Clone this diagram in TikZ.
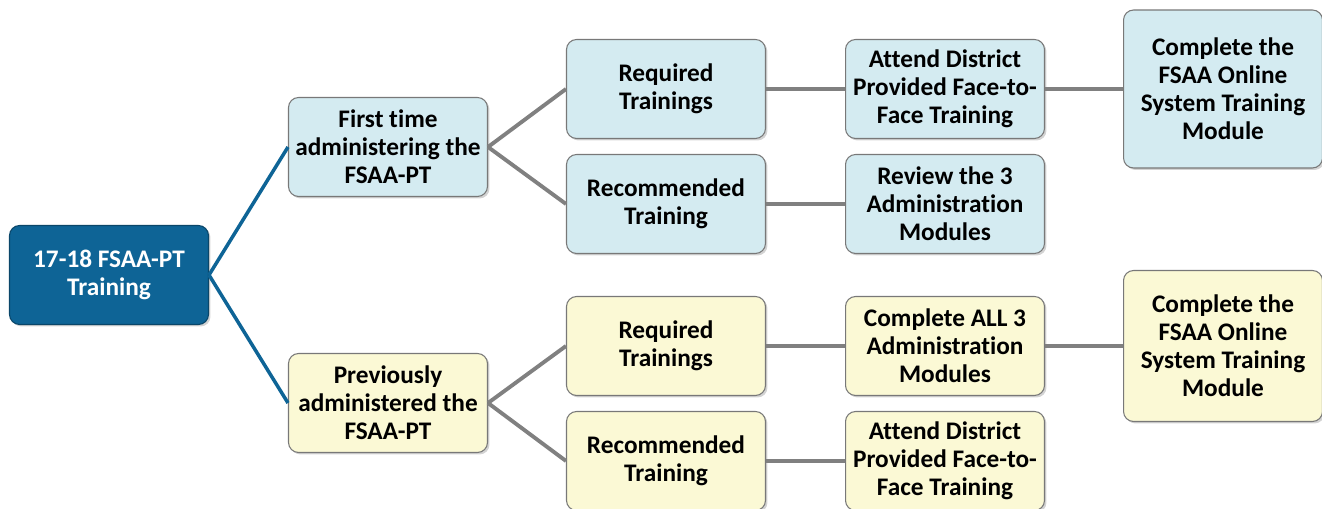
\documentclass[tikz,border=0pt]{standalone}
\usepackage{fontspec}
\setmainfont{Carlito}[Ligatures={NoCommon}]
\usetikzlibrary{shadows}
\definecolor{rootblue}{RGB}{14,100,150}
\definecolor{paleblue}{RGB}{212,235,241}
\definecolor{paleyellow}{RGB}{251,249,213}
\definecolor{boxline}{RGB}{120,120,120}
\definecolor{linkgray}{RGB}{128,128,128}
\tikzset{
  box/.style={rectangle,rounded corners=.2cm,draw=boxline,line width=.6pt,
    minimum width=3.98cm,minimum height=1.98cm,align=center,inner sep=1pt,
    font=\fontsize{14.4}{15.9}\selectfont\bfseries,
    drop shadow={shadow xshift=.04cm,shadow yshift=-.04cm,opacity=.35}},
  bluebox/.style={box,fill=paleblue},
  yellowbox/.style={box,fill=paleyellow},
  rootlink/.style={draw=rootblue,line width=2pt},
  link/.style={draw=linkgray,line width=2.2pt}
}
\begin{document}
\begin{tikzpicture}[x=.02cm,y=-.02cm]
\useasboundingbox(0,0)rectangle(1322,509);
\clip(0,0)rectangle(1322,509);
%root
\node[box,fill=rootblue,draw=rootblue!70!black,text=white](root)at(109,275){17-18 FSAA-PT\\Training};
%first time branch
\node[bluebox](first)at(388,147){First time\\administering the\\FSAA-PT};
\node[bluebox](reqa)at(666,89){Required\\Trainings};
\node[bluebox](reca)at(666,204){Recommended\\Training};
\node[bluebox](attenda)at(945,89){Attend District\\Provided Face-to-\\Face Training};
\node[bluebox](review)at(945,204){Review the 3\\Administration\\Modules};
\node[bluebox,minimum height=3.16cm](onlinea)at(1223,89){Complete the\\FSAA Online\\System Training\\Module};
%previously branch
\node[yellowbox](prev)at(388,403){Previously\\administered the\\FSAA-PT};
\node[yellowbox](reqb)at(666,346){Required\\Trainings};
\node[yellowbox](recb)at(666,461){Recommended\\Training};
\node[yellowbox](allthree)at(945,346){Complete ALL 3\\Administration\\Modules};
\node[yellowbox](attendb)at(945,461){Attend District\\Provided Face-to-\\Face Training};
\node[yellowbox,minimum height=3.02cm](onlineb)at(1223,346){Complete the\\FSAA Online\\System Training\\Module};
%links
\draw[rootlink](root.east)--(first.west);
\draw[rootlink](root.east)--(prev.west);
\draw[link](first.east)--(reqa.west);
\draw[link](first.east)--(reca.west);
\draw[link](reqa)--(attenda);
\draw[link](attenda)--(onlinea);
\draw[link](reca)--(review);
\draw[link](prev.east)--(reqb.west);
\draw[link](prev.east)--(recb.west);
\draw[link](reqb)--(allthree);
\draw[link](allthree)--(onlineb);
\draw[link](recb)--(attendb);
\end{tikzpicture}
\end{document}
